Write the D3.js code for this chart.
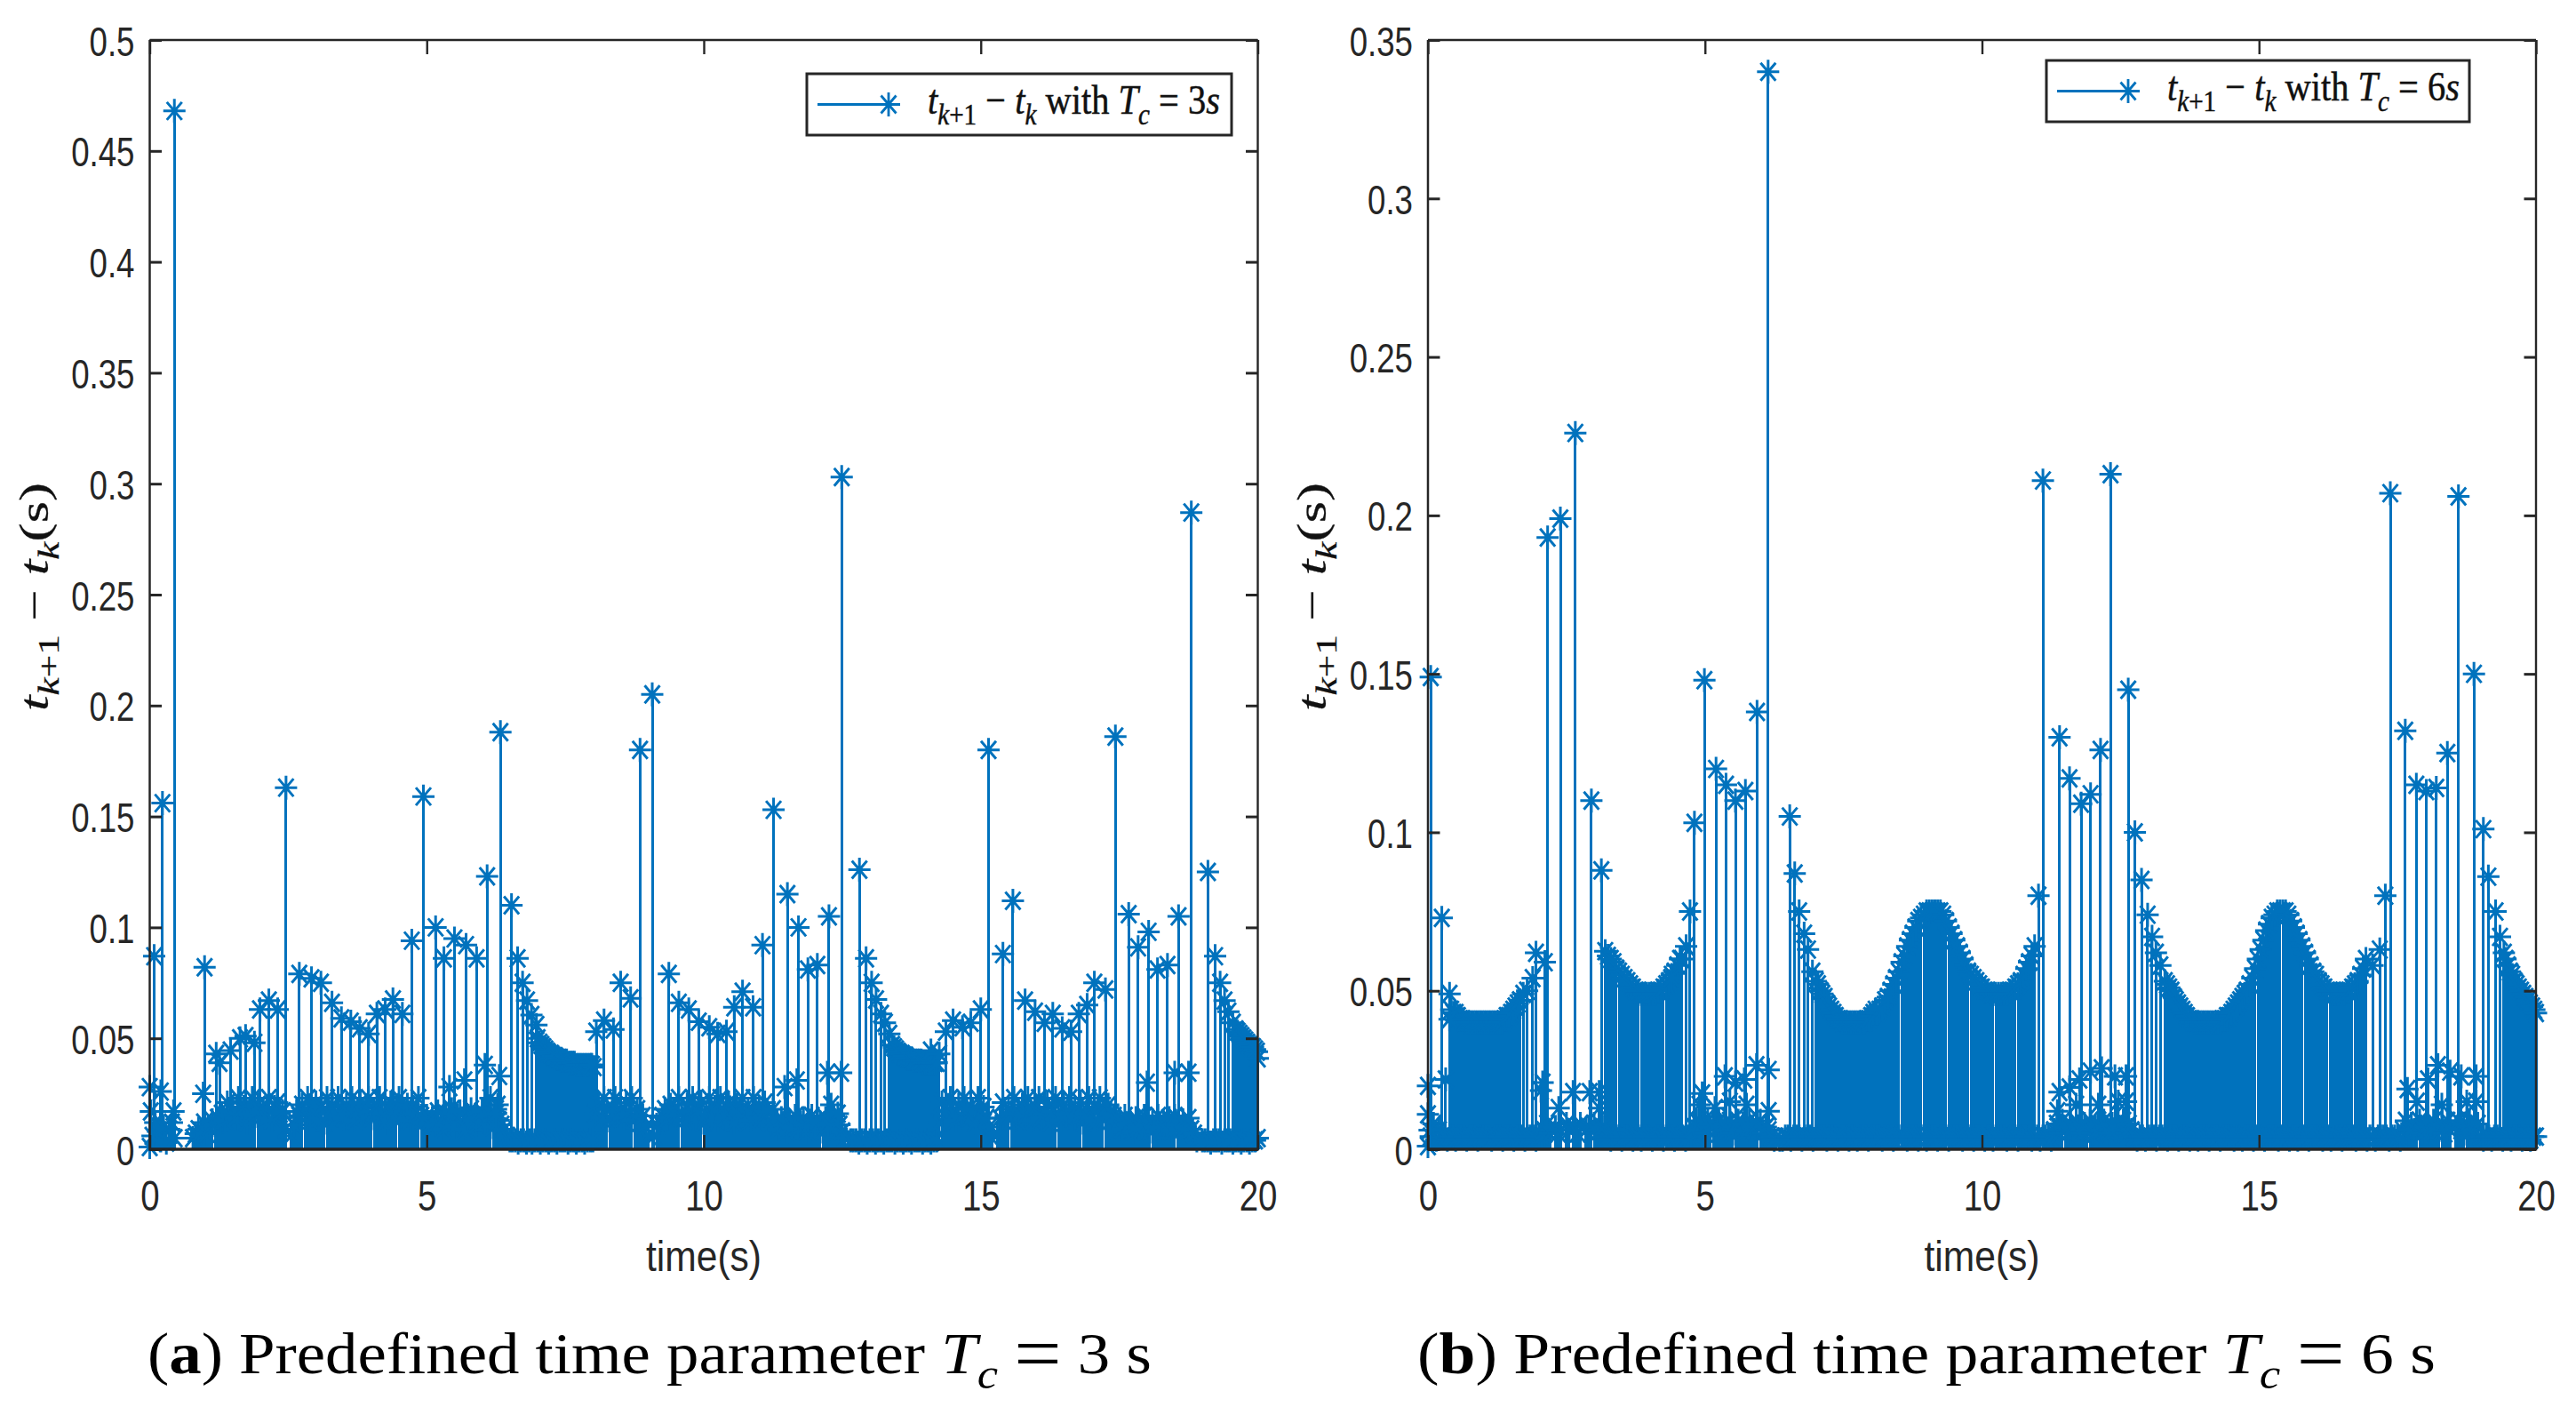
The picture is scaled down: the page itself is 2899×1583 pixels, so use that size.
<!DOCTYPE html>
<html><head><meta charset="utf-8">
<script src="https://cdn.jsdelivr.net/npm/d3@7"></script>
<style>html,body{margin:0;background:#fff}svg{display:block}</style></head>
<body><svg id="c" width="2899" height="1583"></svg>
<script>
// ---------- panel (a): individually readable markers [time s, interval s]
const peaksA=[[.08,.087],[.23,.156],[.445,.468],[0,.028],[.2,.026],[.02,.017],[.43,.017],[.99,.082],[.965,.025],[2.46,.163],[1.2,.043],[1.26,.039],[1.46,.0445],[1.63,.05],[1.73,.051],[1.89,.048],[1.99,.063],[2.15,.067],[2.31,.063],[2.7,.079],[2.92,.077],[3.09,.075],[3.29,.066],[3.46,.059],[3.63,.0575],[3.79,.0545],[3.95,.052],[4.1,.061],[4.25,.063],[4.39,.0675],[4.56,.061],[4.73,.094],[4.94,.159],[5.16,.1],[5.31,.086],[5.5,.095],[5.71,.092],[5.9,.086],[6.09,.123],[6.33,.188],[6.53,.11],[6.64,.086],[6.73,.075],[6.81,.067],[6.89,.0605],[6.98,.056],[7.97,.038],[8.06,.053],[8.2,.058],[8.37,.054],[8.5,.075],[8.68,.068],[8.85,.18],[9.07,.205],[9.37,.079],[9.55,.066],[9.73,.063],[9.91,.0575],[10.1,.055],[10.25,.052],[10.41,.053],[10.55,.064],[10.7,.071],[10.89,.064],[11.06,.092],[11.26,.153],[11.51,.115],[11.71,.1],[11.88,.081],[12.05,.083],[12.26,.105],[12.49,.303],[12.81,.126],[12.93,.086],[13.03,.075],[13.11,.0675],[13.2,.061],[13.27,.057],[13.35,.052],[14.1,.0445],[14.25,.043],[14.37,.053],[14.5,.058],[14.67,.055],[14.82,.057],[15,.063],[15.14,.18],[15.4,.088],[15.58,.112],[15.8,.067],[15.98,.062],[16.15,.057],[16.3,.061],[16.47,.0545],[16.63,.053],[16.77,.061],[16.92,.065],[17.05,.075],[17.25,.072],[17.43,.186],[17.67,.106],[17.84,.091],[18.03,.098],[18.19,.081],[18.37,.083],[18.57,.105],[18.8,.287],[19.1,.125],[19.23,.087],[19.32,.075],[19.4,.067],[19.47,.062],[19.55,.057],[20,.041],[20,.005]];
const midA=[[5.41,.028],[5.68,.031],[6.05,.038],[6.31,.033],[6.28,.02],[11.46,.028],[11.68,.031],[12.23,.0345],[12.48,.0345],[18,.03],[18.5,.0345],[18.75,.0345],[6.15,.023],[6.25,.016],[12.3,.02],[12.42,.016]];
// panel (a): dense envelope runs, [start time, step, values]
const envA1=[7.0,.035,[.05,.048,.047,.046,.045,.044,.043,.043,.042,.042,.041,.041,.04,.04,.04,.04,.039,.039,.039,.039,.038,.038,.038,.038,.038,.038,.038,.038,.038,.037]];
const envA2=[13.4,.035,[.047,.046,.045,.044,.043,.043,.042,.042,.041,.041,.041,.04,.04,.04,.04,.04,.039,.039,.039,.039,.039,.039,.039,.039]];
const envA3=[19.6,.035,[.054,.053,.052,.051,.05,.049,.048,.047,.046,.046,.045,.044]];
// panel (a): low band runs, thousandths of a second, one reading per 0.05 s
const lowA1=[0,[1,6,12,8,4,10,3,9,12,5]];
const lowA2=[.78,[5,7,9,8,12,7,10,13,11,14,12]];
const lowA3=[1.3,[16,13,21,15,17,14,23,18,19,12,16,23,15,20,17,18,14,23,13,19,21,16,17]];
const lowA4=[2.45,[9,0,6]];
const lowA5=[2.6,[11,17,15,20,16,23,13,18,21,14,19,12,23,16,19,15,23,17,14,20,16,23,13,18,21,15,19,23,14,17,20,23,16,12,18,21,15,19,23,14,17,20,13,19,16,23,15]];
const lowA6=[4.95,[12,15,11]];
const lowA7=[5.1,[14,11,17,13,9,16,12,18,10,15,17,12,9,15,18,13,11,14,17,12,15,16,10,18,13,11]];
const lowA8=[6.4,[9,6,4,4]];
const lowA9=[6.6,[4,3,4,4,3,4,3,4,4,3,4,4,3,4,4,3,4,4,4,3,4,4,3,4,4,3,4,4,4]];
const lowA10=[8.05,[16,20,14,23,18,13,19,23,15,17,14,21,16,23,13,18,12,15]];
const lowA11=[8.95,[10,6,0,6,11,12,15,18,14,20,17]];
const lowA12=[9.5,[15,23,16,13,20,17,23,14,18,21,12,16,23,15,19,13,23,17,14,21,16,12,20,17,23,15,18,13,23,16,19,14,21,17,12,18]];
const lowA13=[11.3,[12,9,14,11,8,13,10,15,9,12,14,8,11,15,10,13,12,8,14,11,12,15,9,11]];
const lowA14=[12.5,[8,5,0,4,4]];
const lowA15=[12.75,[4,3,4,4,3,4,4,3,4,4,3,4,4,4,3,4,4,3,4,4,3,4,4,4,3,4,4,3,4,4]];
const lowA16=[14.25,[12,21,15,17,23,16,13,20,15,23,18,14,18,12,23,16,19,14]];
const lowA17=[15.15,[10,5,0,7]];
const lowA18=[15.35,[14,21,15,18,16,23,13,16,20,15,23,17,13,19,23,14,16,21,12,17,23,15,13,20,16,23,14,18,15,21,12,16,23,14,19,13,23,17,14,20,16,15]];
const lowA19=[17.45,[9,13,9,15,11,12,8,14,10,9,15,11,8,13,10,15,9,12,10,14,8,15,11,9,13,10,14,9]];
const lowA20=[18.85,[7,4,0,4,4]];
const lowA21=[19.1,[4,3,4,4,4,3,4,4,4,3,4,4,3,4,4,3,4,4]];
// ---------- panel (b)
const peaksB=[[.05,.149],[.25,.073],[.39,.049],[0,.02],[0,.011],[.32,.022],[.39,.041],[.03,.006],[1.72,.049],[1.79,.05],[1.89,.054],[1.95,.062],[2.11,.059],[2.16,.193],[2.39,.199],[2.66,.226],[2.95,.11],[3.13,.088],[4.39,.054],[4.58,.06],[4.66,.064],[4.73,.075],[4.81,.103],[4.99,.148],[5.2,.12],[5.38,.115],[5.55,.11],[5.73,.113],[5.94,.138],[6.14,.34],[6.53,.105],[6.62,.087],[6.7,.075],[6.79,.068],[6.86,.063],[6.94,.056],[11.02,.08],[11.1,.211],[11.4,.13],[11.58,.117],[11.79,.109],[11.96,.112],[12.14,.126],[12.32,.213],[12.64,.145],[12.76,.1],[12.88,.085],[12.99,.074],[13.07,.067],[13.14,.062],[13.22,.058],[17.05,.058],[17.18,.063],[17.28,.08],[17.37,.207],[17.64,.132],[17.84,.115],[18.02,.113],[18.2,.114],[18.4,.125],[18.6,.206],[18.88,.15],[19.05,.101],[19.14,.086],[19.27,.075],[19.35,.067],[19.42,.062],[20,.043],[20,.004]];
const midB=[[2.04,.0185],[2.07,.021],[2.36,.013],[2.62,.018],[2.92,.018],[3.09,.018],[3.09,.013],[4.95,.0176],[4.9,.014],[5.18,.013],[5.36,.023],[5.55,.021],[5.71,.022],[5.93,.0265],[6.15,.025],[6.15,.012],[5.45,.015],[5.75,.014],[11.4,.018],[11.58,.0195],[11.76,.022],[11.96,.0245],[12.16,.0255],[12.4,.023],[12.6,.023],[12.6,.015],[12.46,.015],[11.36,.012],[11.7,.014],[12.1,.014],[17.68,.019],[18.05,.022],[18.23,.0265],[18.45,.0245],[18.65,.023],[18.92,.023],[18.75,.015],[17.85,.015],[18.92,.015],[18.3,.014]];
const envB1=[.42,.04,[.044,.043,.043,.042,.041,.041,.04,.04,.04,.04,.04,.04,.04,.04,.04,.04,.04,.04,.04,.04,.04,.04,.04,.04,.041,.042,.042,.043,.044,.045,.046,.047]];
const envB2=[3.2,.05,[.0625,.061,.06,.059,.057,.056,.055,.054,.053,.052,.051,.05,.05,.049,.049,.049,.049,.049,.049,.05,.05,.051,.052,.053,.055,.056,.058,.06]];
const envB3=[7.0,.04,[.053,.052,.05,.049,.048,.046,.045,.044,.043,.042,.041,.041,.04,.04,.04,.04,.04,.04,.04,.04,.04,.04,.04,.041,.041,.042,.043,.044]];
const envB4=[8.1,.05,[.043,.044,.045,.047,.048,.05,.052,.054,.056,.059,.061,.064,.066,.068,.07,.072,.073,.074,.075,.075,.075,.075,.075,.075,.074,.072,.07,.068,.066,.064,.062,.06,.058,.056,.055,.054,.053,.052,.051,.05,.05,.049,.049,.049,.049,.049,.049,.049,.05,.05,.051,.052,.053,.055,.057,.059,.061,.064]];
const envB5=[13.3,.04,[.053,.052,.051,.05,.048,.047,.046,.045,.044,.043,.042,.041,.041,.04,.04,.04,.04,.04,.04,.04,.04,.04,.04,.04,.04,.04,.041,.041,.042,.042,.043,.044,.045,.046,.047,.048,.049,.05]];
const envB6=[14.83,.05,[.052,.054,.057,.06,.063,.066,.069,.071,.073,.074,.075,.075,.075,.075,.074,.072,.07,.068,.066,.064,.062,.06,.058,.056,.055,.053,.052,.051,.05,.05,.049,.049,.049,.049,.049,.05,.05,.051,.052,.053,.055,.057,.06]];
const envB7=[19.45,.04,[.06,.058,.056,.055,.053,.052,.051,.05,.049,.048,.047,.046,.045,.044]];
const lowB1=[0,[1,4,8,3,6,4,5,3]];
const lowB2=[.4,[4,4,3,4,4,4,3,4,4,4,3,4,4,4,4,3,4,4,4,3,4,4,4,3,4,4,4,3,4,4,4,3,4,4]];
const lowB3=[2.1,[6,8,5,0,7,5,6,0,8,6,0,7,5,8,0,6,7,0,8,5,6,7,6]];
const lowB4=[3.25,[4,3,4,4,4,3,4,4,4,3,4,4,3,4,4,4,3,4,4,4,3,4,4,4,3,4,4,4,3,4,4]];
const lowB5=[4.8,[7,9,6,8,5,9,7,8,6,9,7,8,6,9,5,7,9,6,8,6,9,7,6,8,9,5,7,6]];
const lowB6=[6.2,[4,3,0,3,3]];
const lowB7=[6.45,[4,4,3,4,4,4,3,4,4,4,3,4,4,4,4,3,4,4,4,3,4,4,4,3,4,4,3,4,4,4,3,4,4,4,4,3,4,4,4,3,4,4,4,4,3,4,4,4,3,4,4,3,4,4,4,3,4,4,4,3,4,4,4,4,3,4,4,4,3,4,4,4,3,4,4,3,4,4,4,4,3,4,4,4,3,4,4,4,4,3,4,4,3,4,4,4,3]];
const lowB8=[11.3,[6,8,5,9,7,5,8,6,9,7,5,8,6,9,5,7,8,6,9,7,5,8,6,0,7,9,5,8,6]];
const lowB9=[12.75,[4,3,4,4,3,4,4,4,3,4,4,4,3,4,4,4,3,4,4,4,3,4,4,3,4,4,4,3,4,4,4,3,4,4,4,4,3,4,4,3,4,4,4,3,4,4,4,3,4,4,4,4,3,4,4,4,3,4,4,3,4,4,4,3,4,4,4,4,3,4,4,3,4,4,4,3,4,4,4,4,3,4,4,4,3,4,4,3,4,4,4,4,3,4,4,4,3]];
const lowB10=[17.6,[6,9,5,8,6,0,9,5,7,8,6,9,0,6,8,5,9,6,0,7,9,6,8,5,9,6,0,8]];
const lowB11=[19,[4,3,4,4,3,4,4,4,3,4,4,3,4,4,4,3,4,4,3,4]];
const yTicksA=[0,.05,.1,.15,.2,.25,.3,.35,.4,.45,.5];
const yTicksB=[0,.05,.1,.15,.2,.25,.3,.35];
const xTicks=[0,5,10,15,20];
const BLUE="#0072bd",INK="#262626";

const runs=r=>r[2].map((v,i)=>[r[0]+r[1]*i,v]);
const low=r=>r[1].map((v,i)=>[r[0]+.05*i,v/1000]).filter(d=>d[1]>0);
const dataA=[].concat(
  ...[lowA1,lowA2,lowA3,lowA4,lowA5,lowA6,lowA7,lowA8,lowA9,lowA10,lowA11,lowA12,lowA13,lowA14,lowA15,lowA16,lowA17,lowA18,lowA19,lowA20,lowA21].map(low),
  ...[envA1,envA2,envA3].map(runs),midA,peaksA);
const dataB=[].concat(
  ...[lowB1,lowB2,lowB3,lowB4,lowB5,lowB6,lowB7,lowB8,lowB9,lowB10,lowB11].map(low),
  ...[envB1,envB2,envB3,envB4,envB5,envB6,envB7].map(runs),midB,peaksB);

const svg=d3.select("#c");
const star="M0,-13.5V13.5M-12.5,0H12.5M-8.5,-10L8.5,10M-8.5,10L8.5,-10";
const SANS="'Liberation Sans',Arial,sans-serif",SERIF="'Liberation Serif',serif";

function fit(sel,w){
  const n=sel.node(),k=w/n.getComputedTextLength();
  sel.attr("transform",(sel.attr("data-t")||"")+` scale(${k},1)`);
}
function mathText(g,x,y,size,parts){
  const t=g.append("text").attr("x",0).attr("y",0).attr("data-t",`translate(${x},${y})`)
    .attr("font-family",SERIF).attr("font-size",size).attr("fill","#111");
  let cur=0;
  parts.forEach(p=>{
    const s=t.append("tspan").text(p.t);
    if(p.i)s.attr("font-style","italic");
    if(p.b)s.attr("font-weight","bold");
    const want=p.sub?Math.round(size*.26):(p.shift||0);
    if(want!==cur)s.attr("dy",want-cur);cur=want;
    if(p.sub)s.attr("font-size",size*.72);
    if(p.big)s.attr("font-size",size*p.big);
  });
  return t;
}

function panel(data,x0,x1,yMax,yTicks,legend,caption,capX,capW){
  const top=45,bottom=1293;
  const x=d3.scaleLinear().domain([0,20]).range([x0,x1]);
  const y=d3.scaleLinear().domain([0,yMax]).range([bottom,top]);
  const g=svg.append("g");
  g.append("g").attr("shape-rendering","crispEdges").selectAll("line").data(data).join("line")
    .attr("x1",d=>x(d[0])).attr("x2",d=>x(d[0])).attr("y1",y(0)).attr("y2",d=>y(d[1]))
    .attr("stroke",BLUE).attr("stroke-width",3);
  g.append("g").selectAll("path").data(data).join("path")
    .attr("transform",d=>`translate(${x(d[0])},${y(d[1])})`).attr("d",star)
    .attr("fill","none").attr("stroke",BLUE).attr("stroke-width",3);

  const ax=(gen,tx,ty,sw)=>{
    const a=g.append("g").attr("transform",`translate(${tx},${ty})`).call(gen);
    a.selectAll(".tick line").attr("stroke",INK).attr("stroke-width",sw);
    a.select(".domain").remove();
    return a;
  };
  const xb=ax(d3.axisBottom(x).tickValues(xTicks).tickSize(-16).tickFormat(d3.format("d")),0,bottom,2.4);
  xb.selectAll("text").attr("y",0).attr("dy",0).attr("font-size",48).attr("font-family",SANS).attr("fill",INK)
    .attr("transform","translate(0,69) scale(.8,1)");
  ax(d3.axisTop(x).tickValues(xTicks).tickSize(-16).tickFormat(""),0,top,2.4);
  const yl=ax(d3.axisLeft(y).tickValues(yTicks).tickSize(-13.5).tickFormat(d=>String(+d.toFixed(2))),x0,0,3);
  yl.selectAll("text").attr("x",0).attr("dy",0).attr("font-size",47).attr("font-family",SANS).attr("fill",INK)
    .attr("text-anchor","end").attr("transform","translate(-17,17) scale(.78,1)");
  ax(d3.axisRight(y).tickValues(yTicks).tickSize(-13.5).tickFormat(""),x1,0,3);
  const box=(a,b,c,d,sw)=>g.append("line").attr("x1",a).attr("y1",b).attr("x2",c).attr("y2",d).attr("stroke",INK).attr("stroke-width",sw);
  box(x0,top,x1,top,2.4);box(x1,top,x1,bottom+1.5,2.4);box(x0,bottom,x1,bottom,3.4);box(x0,top,x0,bottom+1.5,2.5);

  const xt=g.append("text").attr("data-t",`translate(${(x0+x1)/2},1430)`).attr("text-anchor","middle")
    .attr("font-family",SANS).attr("font-size",48).attr("fill",INK).text("time(s)");
  fit(xt,130);

  // y title, rotated
  const ly=mathText(g,x0-115,800,46,[{t:"t",i:1},{t:"k",i:1,sub:1},{t:"+1",sub:1},{t:"  −  "},{t:"t",i:1},{t:"k",i:1,sub:1},{t:"(s)"}]);
  ly.attr("stroke","#111").attr("stroke-width",.3);
  const k=257/ly.node().getComputedTextLength();
  ly.attr("transform",`translate(${x0-115},800) rotate(-90) scale(${k},1)`);

  // legend
  const L=legend;
  g.append("rect").attr("x",L.x0).attr("y",L.y0).attr("width",L.x1-L.x0).attr("height",L.y1-L.y0)
    .attr("fill","#fff").attr("stroke",INK).attr("stroke-width",3);
  const lm=(L.y0+L.y1)/2;
  g.append("line").attr("x1",L.x0+12).attr("x2",L.x0+105).attr("y1",lm).attr("y2",lm).attr("stroke",BLUE).attr("stroke-width",2.8);
  g.append("path").attr("transform",`translate(${L.x0+92},${lm})`).attr("d",star).attr("fill","none").attr("stroke",BLUE).attr("stroke-width",2.8);
  const lt=mathText(g,L.x0+136,L.y0+45,46,[{t:"t",i:1},{t:"k",i:1,sub:1},{t:"+1",sub:1},{t:" − "},{t:"t",i:1},{t:"k",i:1,sub:1},{t:" with "},{t:"T",i:1},{t:"c",i:1,sub:1},{t:" = "+L.v},{t:"s",i:1}]);
  lt.attr("stroke","#111").attr("stroke-width",.5);
  fit(lt,329);

  // caption
  const c=mathText(g,capX,1545,66,[{t:"("},{t:caption,b:1},{t:") Predefined time parameter "},{t:"T",i:1},{t:"c",i:1,sub:1},{t:"  "},{t:"=",big:1.3,shift:7},{t:"  "+legend.v+" s"}]);
  c.attr("fill","#000");
  fit(c,capW);
}

panel(dataA,168.5,1415.5,.5,yTicksA,{x0:908,x1:1386,y0:83,y1:152,v:"3"},"a",166,1130);
panel(dataB,1607,2854,.35,yTicksB,{x0:2303,x1:2779,y0:68,y1:137,v:"6"},"b",1595,1146);
</script></body></html>
